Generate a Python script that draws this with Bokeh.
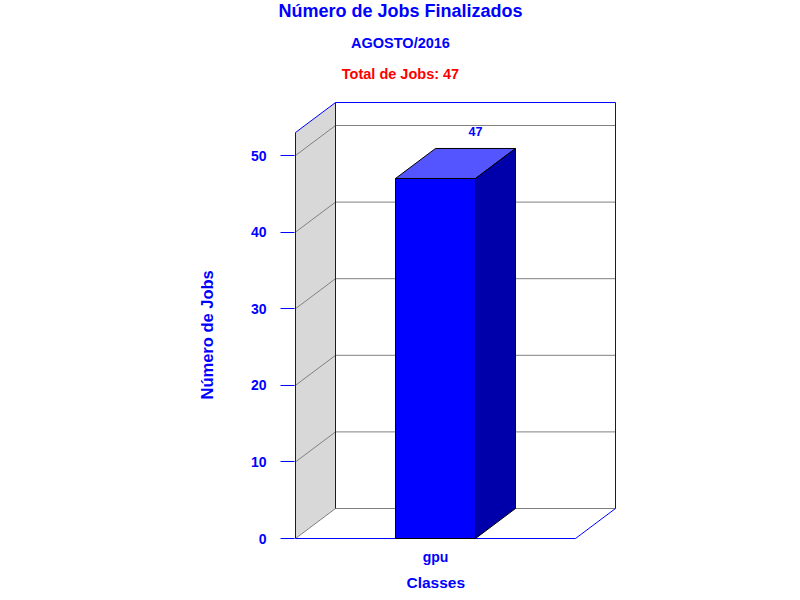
from bokeh.plotting import figure
from bokeh.models import Range1d, FixedTicker, Label, Title, ColumnDataSource
from bokeh.embed import file_html
from bokeh.resources import INLINE
from bokeh.core.properties import value

# ---- data ----
categories = ["gpu"]
jobs = [47]
y_ticks = [0, 10, 20, 30, 40, 50]
title_text = "Número de Jobs Finalizados"
subtitle_text = "AGOSTO/2016"
total_text = "Total de Jobs: 47"
x_title = "Classes"
y_title = "Número de Jobs"

# ---- geometry / style ----
W, H = 800, 600
FL, FB = 294, 540      # frame left / bottom (px)
FT = 22                # expected frame top (height of the title panel)
X0, Y0 = 295, 538      # pixel of data (0, 0)
PX_X, PX_Y = 280.0, 7.66   # px per x unit / per value unit
Y_MAX = 53.0           # top of the value scale (front)
DX = 40 / PX_X         # 3D depth in x units
DY = 30 / PX_Y         # 3D depth in value units
BAR_W = 0.2857
FONT = "Liberation Sans"
BLUE = "#0000FF"
GRID = "#808080"

n = len(categories)
p = figure(width=W, height=H,
           x_range=Range1d(-(X0 - FL) / PX_X, (W - X0) / PX_X),
           y_range=Range1d(-(FB - Y0) / PX_Y, (Y0 - FT) / PX_Y),
           output_backend="svg", toolbar_location=None,
           min_border_left=FL, min_border_right=0,
           min_border_top=0, min_border_bottom=H - FB)
p.outline_line_color = None
p.background_fill_color = "white"
p.border_fill_color = "white"
p.xgrid.visible = False
p.ygrid.visible = False

# main title
p.add_layout(Title(text=title_text, align="left", offset=-16, vertical_align="top",
                   standoff=0, text_font=FONT, text_font_style="bold",
                   text_font_size="18px", text_color=BLUE), "above")

# left wall
p.patch([0, DX, DX, 0], [0, DY, Y_MAX + DY, Y_MAX], fill_color="#D8D8D8", line_color=None)

# grid lines (wall diagonal + back wall)
p.multi_line(xs=[[0, DX, n + DX] for t in y_ticks],
             ys=[[t, t + DY, t + DY] for t in y_ticks],
             line_color=GRID, line_width=1)

# blue frame edges
edges_x = [[0, 0], [0, DX], [DX, DX], [DX, n + DX], [n + DX, n + DX], [0, n], [n, n + DX]]
edges_y = [[0, Y_MAX], [Y_MAX, Y_MAX + DY], [DY, Y_MAX + DY], [Y_MAX + DY, Y_MAX + DY],
           [DY, Y_MAX + DY], [0, 0], [0, DY]]
p.multi_line(xs=edges_x, ys=edges_y, line_color=BLUE, line_width=1)

# bars
centers = [i + 0.5 for i in range(n)]
src = ColumnDataSource(dict(
    left=[c - BAR_W / 2 for c in centers],
    right=[c + BAR_W / 2 for c in centers],
    top=jobs,
    bottom=[0] * n,
))
p.quad(left="left", right="right", top="top", bottom="bottom", source=src,
       fill_color=BLUE, line_color="black", line_width=1)
top_xs, top_ys, side_xs, side_ys = [], [], [], []
for c, v in zip(centers, jobs):
    l, r = c - BAR_W / 2, c + BAR_W / 2
    top_xs.append([l, l + DX, r + DX, r])
    top_ys.append([v, v + DY, v + DY, v])
    side_xs.append([r, r + DX, r + DX, r])
    side_ys.append([0, DY, v + DY, v])
p.patches(top_xs, top_ys, fill_color="#5555FF", line_color="black", line_width=1)
p.patches(side_xs, side_ys, fill_color="#0000AA", line_color="black", line_width=1)

# value labels
p.text(x=[c + DX for c in centers], y=[v + DY for v in jobs], text=[str(v) for v in jobs],
       text_font=value(FONT), text_font_style="bold", text_font_size="12.5px",
       text_color=BLUE, text_align="center", text_baseline="alphabetic", y_offset=-17)

# y axis
ya = p.yaxis[0]
ya.ticker = FixedTicker(ticks=y_ticks)
ya.axis_line_color = None
ya.major_tick_line_color = BLUE
ya.major_tick_out = 14
ya.major_tick_in = 0
ya.minor_tick_line_color = None
ya.major_label_text_color = BLUE
ya.major_label_text_font = FONT
ya.major_label_text_font_style = "bold"
ya.major_label_text_font_size = "14px"
ya.major_label_standoff = 14

# x axis
xa = p.xaxis[0]
xa.ticker = FixedTicker(ticks=centers)
xa.major_label_overrides = {c: cat for c, cat in zip(centers, categories)}
xa.axis_line_color = None
xa.major_tick_line_color = None
xa.minor_tick_line_color = None
xa.major_tick_out = 0
xa.major_tick_in = 0
xa.major_label_text_color = BLUE
xa.major_label_text_font = FONT
xa.major_label_text_font_style = "bold"
xa.major_label_text_font_size = "14px"
xa.major_label_standoff = 8

# axis titles as side-panel titles
p.add_layout(Title(text=x_title, align="left", offset=112, vertical_align="bottom",
                   standoff=8, text_font=FONT, text_font_style="bold",
                   text_font_size="15.5px", text_color=BLUE), "below")
p.add_layout(Title(text=y_title, align="left", offset=141, vertical_align="bottom",
                   standoff=64, text_font=FONT, text_font_style="bold",
                   text_font_size="16.5px", text_color=BLUE), "left")


# sub titles (screen units: x from frame left, y up from frame bottom)
def lab(text, sx, sy, size, color=BLUE):
    p.add_layout(Label(x=sx - FL, y=FB - sy, x_units="screen", y_units="screen", text=text,
                       text_font=FONT, text_font_style="bold", text_font_size=size,
                       text_color=color, text_align="center", text_baseline="alphabetic"))


lab(subtitle_text, 400, 42, "14.5px")
lab(total_text, 400, 73, "14.5px", color="#FF0000")

open("out.html", "w").write(file_html(p, INLINE))
